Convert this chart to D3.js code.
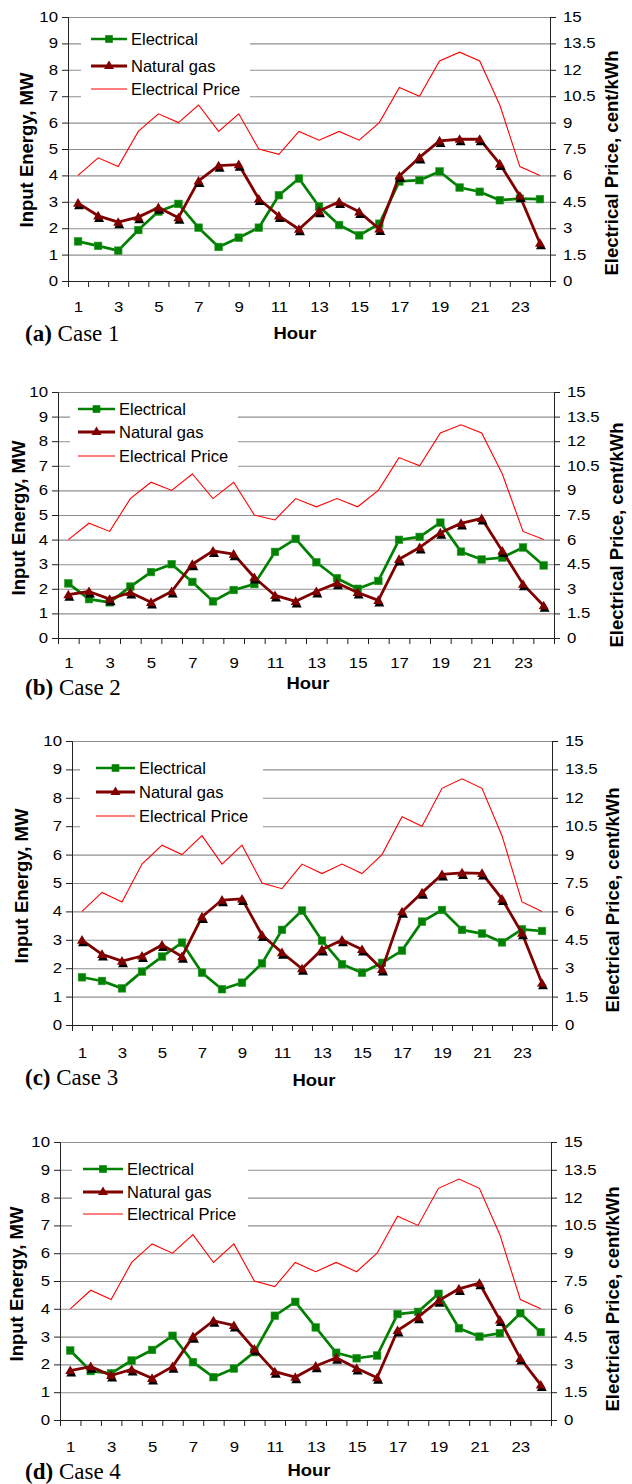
<!DOCTYPE html>
<html>
<head>
<meta charset="utf-8">
<script src="https://cdn.jsdelivr.net/npm/d3@7"></script>
<style>
body { margin: 0; background: #fff; }
svg { display: block; }
text { fill: #000; }
</style>
</head>
<body>
<svg id="chart" width="632" height="1484" font-family="Liberation Sans, Arial, sans-serif"></svg>
<script>
// ---- data ----
var hours = [1, 2, 3, 4, 5, 6, 7, 8, 9, 10, 11, 12, 13, 14, 15, 16, 17, 18, 19, 20, 21, 22, 23, 24];
var hourLabels = [1, 3, 5, 7, 9, 11, 13, 15, 17, 19, 21, 23];
var energyTicks = [0, 1, 2, 3, 4, 5, 6, 7, 8, 9, 10];
var priceTicks = [0, 1.5, 3, 4.5, 6, 7.5, 9, 10.5, 12, 13.5, 15];
var seriesNames = ["Electrical", "Natural gas", "Electrical Price"];
var panelTags = ["(a)", "(b)", "(c)", "(d)"];
var caseNames = ["Case 1", "Case 2", "Case 3", "Case 4"];

// electricity price, cent/kWh (same in all four cases)
var price = [6, 7, 6.5, 8.5, 9.5, 9, 10, 8.5, 9.5, 7.5, 7.2, 8.5, 8, 8.5, 8, 9, 11, 10.5, 12.5, 13, 12.5, 10, 6.5, 6];

var elec1 = [1.5, 1.33, 1.15, 1.93, 2.63, 2.92, 2.02, 1.29, 1.64, 2.02, 3.25, 3.88, 2.82, 2.12, 1.73, 2.17, 3.77, 3.82, 4.15, 3.54, 3.38, 3.06, 3.12, 3.1];
var gas1  = [2.95, 2.47, 2.23, 2.42, 2.78, 2.4, 3.79, 4.37, 4.41, 3.11, 2.47, 1.96, 2.65, 3.0, 2.62, 1.97, 3.98, 4.68, 5.31, 5.37, 5.37, 4.44, 3.22, 1.43];

var elec2 = [2.22, 1.58, 1.45, 2.09, 2.68, 3.0, 2.28, 1.49, 1.95, 2.19, 3.5, 4.03, 3.08, 2.43, 2.0, 2.32, 3.99, 4.11, 4.69, 3.51, 3.19, 3.27, 3.68, 2.95];
var gas2  = [1.76, 1.89, 1.58, 1.85, 1.45, 1.89, 3.0, 3.54, 3.41, 2.46, 1.73, 1.49, 1.89, 2.23, 1.85, 1.53, 3.2, 3.68, 4.28, 4.66, 4.86, 3.54, 2.19, 1.31];

var elec3 = [1.68, 1.55, 1.29, 1.88, 2.41, 2.9, 1.84, 1.26, 1.49, 2.17, 3.35, 4.03, 2.97, 2.14, 1.84, 2.19, 2.62, 3.64, 4.05, 3.35, 3.22, 2.91, 3.37, 3.31];
var gas3  = [2.99, 2.49, 2.25, 2.43, 2.82, 2.41, 3.81, 4.4, 4.44, 3.17, 2.55, 1.98, 2.66, 2.99, 2.66, 1.96, 3.99, 4.66, 5.3, 5.36, 5.34, 4.44, 3.23, 1.47];

var elec4 = [2.5, 1.76, 1.68, 2.14, 2.52, 3.03, 2.08, 1.54, 1.85, 2.44, 3.75, 4.25, 3.33, 2.42, 2.22, 2.32, 3.81, 3.89, 4.54, 3.3, 3.0, 3.12, 3.84, 3.16];
var gas4  = [1.78, 1.92, 1.6, 1.82, 1.5, 1.92, 3.0, 3.57, 3.4, 2.55, 1.74, 1.54, 1.94, 2.24, 1.86, 1.52, 3.22, 3.7, 4.29, 4.72, 4.92, 3.6, 2.22, 1.26];

var elecSeries = [elec1, elec2, elec3, elec4];
var gasSeries = [gas1, gas2, gas3, gas4];

// ---- layout of the four stacked panels ----
var layout = [
  { left: 68, right: 550, top: 17,   bottom: 281,  tickY: 312,  hourX: 295, hourY: 339,  caseY: 341,
    lTitle: [26, 150],  rTitle: [611, 163],  box: [81, 24, 250, 100],    lx: [91, 127], rows: [39, 66, 89] },
  { left: 58, right: 554, top: 392,  bottom: 638,  tickY: 668,  hourX: 308, hourY: 689,  caseY: 695,
    lTitle: [18, 518],  rTitle: [616, 535],  box: [70, 398, 238, 470],   lx: [78, 115], rows: [409, 432, 456] },
  { left: 72, right: 552, top: 741,  bottom: 1025, tickY: 1058, hourX: 314, hourY: 1086, caseY: 1085,
    lTitle: [21, 886],  rTitle: [612, 900],  box: [80, 748, 263, 831],   lx: [96, 135], rows: [768, 792, 816] },
  { left: 60, right: 551, top: 1142, bottom: 1420, tickY: 1452, hourX: 309, hourY: 1476, caseY: 1479,
    lTitle: [16, 1284], rTitle: [612, 1299], box: [72, 1150, 248, 1230], lx: [83, 123], rows: [1169, 1192, 1214] }
];

var GREEN = "#008000", MAROON = "#800000", RED = "#ff0000";
var TICK_SX = 1.2; // tick labels in the figure are slightly wide

var svg = d3.select("#chart");
var triPath = "M0,-5L5,3.6L-5,3.6Z";

function stretchText(sel, sx) {
  sel.each(function () {
    var t = d3.select(this);
    var x0 = +t.attr("x") || 0;
    t.attr("x", x0 / sx).attr("transform", "scale(" + sx + ",1)");
  });
}

function drawPanel(p, i) {
  var g = svg.append("g");
  var x = d3.scaleLinear().domain([0.5, 24.5]).range([p.left, p.right]);
  var y = d3.scaleLinear().domain([0, 10]).range([p.bottom, p.top]);
  var y2 = d3.scaleLinear().domain([0, 15]).range([p.bottom, p.top]);

  // horizontal gridlines
  g.append("g").attr("transform", "translate(" + p.left + ",0)")
    .call(d3.axisLeft(y).tickValues(energyTicks).tickSize(-(p.right - p.left)).tickFormat(""))
    .call(function (s) { s.select(".domain").remove(); })
    .selectAll("line").attr("stroke", "#8f8f8f").attr("stroke-width", 1.1);

  // legend background hides the gridlines behind it
  g.append("rect")
    .attr("x", p.box[0]).attr("y", p.box[1])
    .attr("width", p.box[2] - p.box[0]).attr("height", p.box[3] - p.box[1])
    .attr("fill", "#fff");

  // left axis
  var ax = g.append("g").attr("transform", "translate(" + p.left + ",0)")
    .call(d3.axisLeft(y).tickValues(energyTicks).tickSize(6).tickPadding(4).tickFormat(d3.format("d")));
  // right axis
  var ax2 = g.append("g").attr("transform", "translate(" + p.right + ",0)")
    .call(d3.axisRight(y2).tickValues(priceTicks).tickSize(6).tickPadding(7).tickFormat(function (d) { return String(d); }));
  // bottom axis: ticks on category boundaries
  var ax3 = g.append("g").attr("transform", "translate(0," + p.bottom + ")")
    .call(d3.axisBottom(x).tickValues(hours.map(function (h) { return h - 0.5; }).concat([24.5]))
      .tickSize(6).tickFormat(""));
  [ax, ax2, ax3].forEach(function (a) {
    a.attr("font-family", null);
    a.selectAll("path, line").attr("stroke", "#222");
    a.selectAll("text").attr("font-size", 14).attr("fill", "#000");
  });
  stretchText(ax.selectAll("text"), TICK_SX);
  stretchText(ax2.selectAll("text"), TICK_SX);

  // hour labels (every other hour)
  var xl = g.append("g").attr("transform", "translate(0," + p.bottom + ")")
    .call(d3.axisBottom(x).tickValues(hourLabels).tickSize(0).tickFormat(d3.format("d")));
  xl.attr("font-family", null);
  xl.select(".domain").remove();
  xl.selectAll("text").attr("font-size", 14).attr("y", 0).attr("dy", null).attr("fill", "#000");
  xl.selectAll(".tick text").each(function () {
    d3.select(this).attr("transform", "translate(0," + (p.tickY - p.bottom) + ") scale(" + TICK_SX + ",1)");
  });

  // series
  var elec = elecSeries[i], gas = gasSeries[i];
  var line = function (sc) {
    return d3.line().x(function (d, k) { return x(hours[k]); }).y(function (d) { return sc(d); });
  };

  g.append("path").datum(price).attr("d", line(y2))
    .attr("fill", "none").attr("stroke", RED).attr("stroke-width", 1.1);

  g.append("path").datum(elec).attr("d", line(y))
    .attr("fill", "none").attr("stroke", GREEN).attr("stroke-width", 2.7).attr("stroke-linejoin", "round");
  g.selectAll(".sq").data(elec).enter().append("rect")
    .attr("x", function (d, k) { return x(hours[k]) - 3.8; })
    .attr("y", function (d) { return y(d) - 3.8; })
    .attr("width", 7.6).attr("height", 7.6)
    .attr("fill", GREEN).attr("stroke", "#2a9a2a").attr("stroke-width", 0.6);

  g.append("path").datum(gas).attr("d", line(y))
    .attr("fill", "none").attr("stroke", MAROON).attr("stroke-width", 2.8).attr("stroke-linejoin", "round");
  g.selectAll(".trs").data(gas).enter().append("path")
    .attr("d", triPath).attr("fill", "#000")
    .attr("transform", function (d, k) { return "translate(" + (x(hours[k]) + 1) + "," + (y(d) + 2.5) + ")"; });
  g.selectAll(".tr").data(gas).enter().append("path")
    .attr("d", triPath).attr("fill", MAROON)
    .attr("transform", function (d, k) { return "translate(" + x(hours[k]) + "," + y(d) + ")"; });

  // legend
  var lg = g.append("g");
  var colors = [GREEN, MAROON, RED];
  var widths = [2.7, 2.8, 1.1];
  seriesNames.forEach(function (name, k) {
    var ry = p.rows[k];
    lg.append("line").attr("x1", p.lx[0]).attr("x2", p.lx[1]).attr("y1", ry).attr("y2", ry)
      .attr("stroke", colors[k]).attr("stroke-width", widths[k]);
    var cx = (p.lx[0] + p.lx[1]) / 2;
    if (k === 0) {
      lg.append("rect").attr("x", cx - 3.8).attr("y", ry - 3.8).attr("width", 7.6).attr("height", 7.6).attr("fill", GREEN);
    } else if (k === 1) {
      lg.append("path").attr("d", triPath).attr("fill", MAROON).attr("transform", "translate(" + cx + "," + (ry - 0.5) + ")");
    }
    lg.append("text").attr("x", p.lx[1] + 4).attr("y", ry).attr("dy", "0.36em")
      .attr("font-size", 16.5).text(name);
  });

  // axis titles
  g.append("text").attr("transform", "translate(" + p.lTitle[0] + "," + p.lTitle[1] + ") rotate(-90)")
    .attr("text-anchor", "middle").attr("dy", "0.36em").attr("font-weight", "bold").attr("font-size", 18.5)
    .text("Input Energy, MW");
  g.append("text").attr("transform", "translate(" + p.rTitle[0] + "," + p.rTitle[1] + ") rotate(-90)")
    .attr("text-anchor", "middle").attr("dy", "0.36em").attr("font-weight", "bold").attr("font-size", 18.5)
    .text("Electrical Price, cent/kWh");
  g.append("text").attr("transform", "translate(" + p.hourX + "," + p.hourY + ") scale(1.12,1)")
    .attr("text-anchor", "middle").attr("font-weight", "bold").attr("font-size", 16.5)
    .text("Hour");

  // panel caption (serif)
  var cap = g.append("text").attr("x", 25).attr("y", p.caseY)
    .style("font-family", "'Liberation Serif', 'Times New Roman', serif").attr("font-size", 23);
  cap.append("tspan").attr("font-weight", "bold").text(panelTags[i]);
  cap.append("tspan").text(" " + caseNames[i]);
}

layout.forEach(drawPanel);
</script>
</body>
</html>
